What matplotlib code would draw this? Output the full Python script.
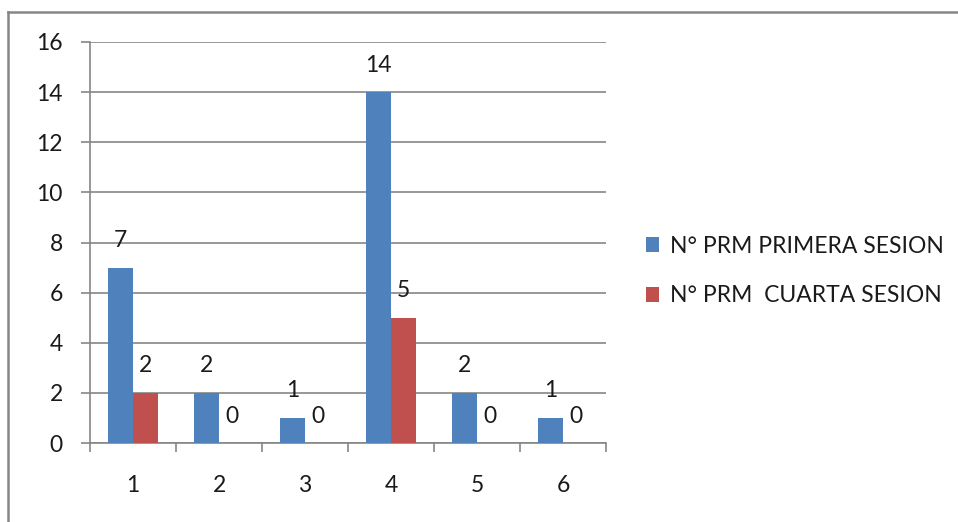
import matplotlib
matplotlib.use("Agg")
import matplotlib.pyplot as plt
from matplotlib.lines import Line2D
from matplotlib.patches import Patch
import numpy as np

categories = ["1", "2", "3", "4", "5", "6"]
primera = [7, 2, 1, 14, 2, 1]
cuarta = [2, 0, 0, 5, 0, 0]
series_names = ["N° PRM PRIMERA SESION", "N° PRM  CUARTA SESION"]
yticks = [0, 2, 4, 6, 8, 10, 12, 14, 16]

BLUE = "#4F81BD"
RED = "#C0504D"
GRID = "#868686"
TXT = "#1a1a1a"
FS = 16.5

plt.rcParams['font.family'] = ['Lato', 'DejaVu Sans']

fig = plt.figure(figsize=(9.58, 5.22), dpi=100)
W, H = 958, 522
ax = fig.add_axes([90 / W, 1 - 443 / H, 516 / W, 401 / H])

x = np.arange(len(categories))
bw = 0.29
ax.bar(x - bw / 2, primera, bw, color=BLUE, zorder=3)
ax.bar(x + bw / 2, cuarta, bw, color=RED, zorder=3)

for xi, v in zip(x - bw / 2, primera):
    ax.annotate(str(v), (xi, v), xytext=(0, 19.4), textcoords="offset points",
                ha="center", va="center", fontsize=FS, color=TXT)
for xi, v in zip(x + bw / 2, cuarta):
    ax.annotate(str(v), (xi, v), xytext=(0, 19.4), textcoords="offset points",
                ha="center", va="center", fontsize=FS, color=TXT)

ax.set_xlim(-0.5, len(categories) - 0.5)
ax.set_ylim(0, 16)
ax.set_yticks(yticks)
ax.set_yticklabels([str(t) for t in yticks])
ax.yaxis.grid(True, color=GRID, linewidth=1.2, zorder=0)
ax.set_axisbelow(True)

ax.set_xticks(np.arange(len(categories) + 1) - 0.5)
ax.set_xticklabels([])
ax.set_xticks(x, minor=True)
ax.set_xticklabels(categories, minor=True)
ax.tick_params(axis="x", which="major", length=6.5, color=GRID, width=1.2)
ax.tick_params(axis="x", which="minor", length=0, pad=23, labelsize=FS, labelcolor=TXT)
ax.tick_params(axis="y", length=6.5, color=GRID, width=1.2, pad=13, labelsize=FS, labelcolor=TXT)

for s in ["top", "right"]:
    ax.spines[s].set_visible(False)
for s in ["left", "bottom"]:
    ax.spines[s].set_color(GRID)
    ax.spines[s].set_linewidth(1.2)

handles = [Patch(facecolor=BLUE), Patch(facecolor=RED)]
fig.legend(handles, series_names, loc="center left",
           bbox_to_anchor=(625 / W, 1 - 271 / H), frameon=False,
           fontsize=FS, handlelength=0.6, handleheight=0.6,
           handletextpad=0.45, labelspacing=1.25, labelcolor=TXT)

fig.add_artist(Line2D([8 / W, 1], [1 - 12 / H, 1 - 12 / H], transform=fig.transFigure,
                      color=GRID, linewidth=1.8))
fig.add_artist(Line2D([8 / W, 8 / W], [0, 1 - 12 / H], transform=fig.transFigure,
                      color=GRID, linewidth=1.8))

fig.savefig("out.png", dpi=100)
